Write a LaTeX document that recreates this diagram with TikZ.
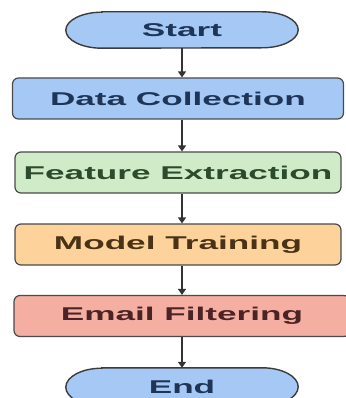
\documentclass[tikz,border=0pt]{standalone}
\usepackage{fontspec}
\setmainfont{Liberation Sans}
\usetikzlibrary{arrows.meta,backgrounds}
\definecolor{bluefill}{HTML}{A6C8F5}
\definecolor{greenfill}{HTML}{CFEBC8}
\definecolor{orangefill}{HTML}{FDD39B}
\definecolor{redfill}{HTML}{F5AEA2}
\definecolor{edge}{HTML}{4A4A4A}
\definecolor{bluetext}{HTML}{1E3557}
\definecolor{greentext}{HTML}{2C4A2C}
\definecolor{orangetext}{HTML}{4A3216}
\definecolor{redtext}{HTML}{4A2424}
\newcommand{\stretched}[1]{\scalebox{1.9}[1]{\bfseries #1}}
\tikzset{
  procbox/.style={draw=edge, line width=1.2pt, rounded corners=6pt,
    minimum height=41pt, inner sep=0pt, font=\fontsize{18.5}{20}\selectfont},
  termtext/.style={minimum width=232pt, minimum height=36pt, inner sep=0pt,
    font=\fontsize{18.5}{20}\selectfont, text=bluetext},
  flow/.style={draw=black!80, line width=1.3pt, -{Triangle[length=6pt,width=8pt]}},
  termshape/.style={draw=edge!80!black, line width=1.4pt, fill=bluefill}
}
\begin{document}
\begin{tikzpicture}[x=1pt,y=-1pt]
\useasboundingbox (0,0) rectangle (345,398);
% terminals
\node[termtext] (start) at (182,30) {\stretched{Start}};
\node[termtext, minimum height=38pt] (end) at (182,387) {\stretched{End}};
\begin{scope}[on background layer]
  \fill[white] (0,0) rectangle (345,398);
  \foreach \n/\ry in {start/18,end/19}{
    \path[termshape] ([xshift=36pt]\n.north west) -- ([xshift=-36pt]\n.north east)
      arc[start angle=90, end angle=-90, x radius=36pt, y radius=\ry pt]
      -- ([xshift=36pt]\n.south west)
      arc[start angle=270, end angle=90, x radius=36pt, y radius=\ry pt] -- cycle;
  }
\end{scope}
% process boxes
\node[procbox, fill=bluefill, text=bluetext, minimum width=331pt] (dc) at (178,98.5) {\stretched{Data Collection}};
\node[procbox, fill=greenfill, text=greentext, minimum width=326pt] (fe) at (178,172.5) {\stretched{Feature Extraction}};
\node[procbox, fill=orangefill, text=orangetext, minimum width=326pt] (mt) at (178,244.5) {\stretched{Model Training}};
\node[procbox, fill=redfill, text=redtext, minimum width=336pt] (ef) at (182,316) {\stretched{Email Filtering}};
% connectors
\draw[flow] (start.south) -- (start.south |- dc.north);
\draw[flow] (start.south |- dc.south) -- (start.south |- fe.north);
\draw[flow] (start.south |- fe.south) -- (start.south |- mt.north);
\draw[flow] (start.south |- mt.south) -- (start.south |- ef.north);
\draw[flow] (start.south |- ef.south) -- (end.north);
\end{tikzpicture}
\end{document}
